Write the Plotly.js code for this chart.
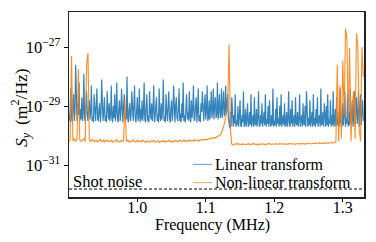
<!DOCTYPE html>
<html>
<head>
<meta charset="utf-8">
<script src="https://cdn.plot.ly/plotly-3.0.1.min.js"></script>
<style>html,body{margin:0;padding:0;background:#fff;}#chart{width:376px;height:242px;}</style>
</head>
<body>
<div id="chart"></div>
<script>
// Frequency grids (MHz): uniform sampling
const linearFreqStart = 0.900, linearFreqStep = 0.001, linearN = 431;
const nonlinearFreqStart = 0.900, nonlinearFreqStep = 0.002, nonlinearN = 216;

// log10 of S_y (m^2/Hz)
const linearLog10 = [
 -29.3,-29.5,-29.1,-28.4,-29.4,-29.55,-29.0,-28.6,-29.5,-29.2,
 -27.6,-29.4,-29.5,-28.9,-29.3,-28.2,-29.5,-29.1,-29.45,-28.7,
 -29.5,-29.2,-27.9,-29.4,-29.55,-29.0,-28.5,-29.3,-29.5,-29.1,
 -28.8,-29.45,-29.2,-28.3,-29.5,-29.35,-29.55,-28.6,-29.2,-29.5,
 -29.0,-28.4,-29.45,-29.5,-29.1,-28.9,-29.55,-29.3,-28.1,-29.4,
 -29.5,-29.2,-28.7,-29.5,-29.3,-29.55,-28.5,-29.1,-29.45,-28.9,
 -29.5,-29.3,-28.3,-29.45,-29.55,-29.0,-29.4,-28.6,-29.5,-29.2,
 -28.2,-29.4,-29.55,-29.1,-28.8,-29.5,-29.3,-28.4,-29.45,-29.55,
 -29.0,-28.6,-29.5,-29.2,-29.45,-28.0,-29.4,-29.55,-29.1,-28.9,
 -29.5,-29.3,-28.5,-29.45,-29.5,-29.0,-28.3,-29.4,-29.55,-29.2,
 -28.7,-29.5,-29.35,-28.4,-29.55,-29.1,-29.45,-28.8,-29.5,-29.2,
 -28.2,-29.45,-29.55,-29.0,-28.6,-29.5,-29.3,-29.55,-28.5,-29.2,
 -29.45,-28.9,-29.5,-29.1,-28.3,-29.55,-29.4,-29.0,-28.7,-29.5,
 -29.25,-29.55,-28.4,-29.3,-29.5,-28.9,-29.45,-29.1,-28.1,-29.5,
 -29.35,-29.55,-28.6,-29.2,-29.5,-29.0,-28.5,-29.45,-29.55,-29.1,
 -28.8,-29.5,-29.3,-28.3,-29.45,-29.55,-29.0,-28.7,-29.4,-29.5,
 -29.1,-28.4,-29.5,-29.25,-29.55,-28.9,-29.4,-28.2,-29.5,-29.3,
 -29.55,-29.0,-28.6,-29.45,-29.2,-29.5,-28.5,-29.35,-29.55,-28.8,
 -29.4,-29.1,-28.3,-29.5,-29.45,-29.0,-28.7,-29.55,-29.2,-28.4,
 -29.5,-29.3,-29.55,-28.9,-29.2,-28.5,-29.45,-29.5,-29.0,-28.6,
 -29.45,-29.2,-28.3,-29.5,-29.4,-28.8,-29.45,-29.1,-28.5,-29.4,
 -29.2,-28.4,-29.45,-29.0,-28.7,-29.4,-29.3,-28.2,-29.45,-29.1,
 -28.6,-29.4,-29.25,-28.4,-29.4,-29.0,-28.5,-29.35,-29.2,-28.3,
 -29.3,-29.0,-28.6,-29.4,-29.6,-29.75,-29.2,-29.7,-28.7,-29.65,
 -29.7,-29.3,-29.6,-28.6,-29.7,-29.5,-29.65,-29.0,-29.7,-29.4,
 -28.8,-29.65,-29.7,-29.3,-29.55,-28.5,-29.7,-29.6,-29.1,-29.7,
 -29.45,-28.9,-29.7,-29.6,-29.2,-29.65,-28.6,-29.7,-29.5,-29.3,
 -29.7,-28.7,-29.6,-29.65,-29.1,-29.7,-29.4,-28.5,-29.65,-29.7,
 -29.3,-29.6,-28.9,-29.7,-29.5,-29.2,-29.65,-28.6,-29.7,-29.45,
 -29.6,-29.0,-29.7,-28.8,-29.55,-29.7,-29.3,-29.65,-28.4,-29.7,
 -29.5,-29.65,-29.1,-29.7,-28.7,-29.6,-29.4,-29.7,-29.0,-29.65,
 -28.6,-29.7,-29.5,-29.3,-29.65,-28.9,-29.7,-29.6,-29.2,-29.7,
 -29.45,-28.5,-29.65,-29.7,-29.1,-29.6,-28.8,-29.7,-29.5,-29.3,
 -29.7,-28.7,-29.6,-29.65,-29.2,-29.7,-29.45,-28.6,-29.7,-29.55,
 -29.3,-29.7,-28.9,-29.6,-29.65,-29.0,-29.7,-28.5,-29.6,-29.7,
 -29.4,-29.65,-28.8,-29.7,-29.5,-29.2,-29.7,-28.6,-29.65,-29.4,
 -29.7,-29.1,-29.6,-28.7,-29.7,-29.55,-29.3,-29.7,-28.4,-29.65,
 -29.6,-29.2,-29.7,-28.9,-29.5,-29.7,-29.0,-29.65,-28.6,-29.7,
 -29.45,-29.6,-28.8,-29.7,-29.3,-29.65,-28.5,-29.7,-29.55,-29.1,
 -29.7,-28.7,-29.6,-29.65,-29.2,-29.7,-28.4,-29.6,-29.5,-29.7,
 -28.9,-29.65,-29.3,-28.5,-29.7,-29.4,-29.6,-28.6,-29.7,-29.2,
 -29.65,-28.4,-29.6,-29.5,-28.8,-29.7,-29.3,-28.5,-29.65,-29.1,
 -28.7,-29.6,-29.4,-28.5,-29.7,-29.2,-28.6,-29.65,-29.0,-28.8,
 -29.5
];

const nonlinearLog10 = [
 -30.2,-30.15,-27.3,-30.18,-30.1,-30.2,-30.12,-27.75,-30.15,-30.2,
 -30.15,-30.1,-30.2,-27.6,-27.2,-30.15,-30.2,-30.12,-30.18,-30.2,
 -30.15,-30.22,-30.18,-30.12,-30.2,-30.16,-30.22,-30.14,-30.2,-30.18,
 -30.2,-30.15,-30.22,-30.17,-30.2,-30.13,-30.2,-30.22,-30.16,-30.2,
 -30.18,-28.75,-30.2,-30.15,-30.22,-30.18,-30.2,-30.14,-30.2,-30.22,
 -30.16,-30.2,-30.18,-30.22,-30.15,-30.2,-30.23,-30.17,-30.2,-30.22,
 -30.18,-30.2,-30.15,-30.22,-30.2,-30.17,-30.23,-30.19,-30.2,-30.16,
 -30.22,-30.18,-30.2,-30.15,-30.21,-30.19,-30.22,-30.16,-30.2,-30.18,
 -30.2,-30.15,-30.18,-30.2,-30.14,-30.19,-30.17,-30.2,-30.15,-30.18,
 -30.16,-30.19,-30.14,-30.17,-30.15,-30.18,-30.13,-30.16,-30.12,-30.15,
 -30.12,-30.14,-30.1,-30.12,-30.08,-30.1,-30.06,-30.08,-30.04,-30.02,
 -30.0,-29.95,-29.85,-29.7,-29.5,-29.3,-29.0,-26.9,-29.8,-30.3,
 -30.32,-30.28,-30.3,-30.26,-30.3,-30.28,-30.32,-30.27,-30.3,-30.29,
 -30.3,-30.27,-30.31,-30.28,-30.3,-30.26,-30.3,-30.29,-30.32,-30.28,
 -30.3,-30.27,-30.29,-30.31,-30.28,-30.3,-30.26,-30.29,-30.3,-30.28,
 -30.3,-30.27,-30.29,-30.3,-30.26,-30.28,-30.3,-30.27,-30.29,-30.28,
 -30.3,-30.26,-30.28,-30.29,-30.27,-30.3,-30.28,-30.26,-30.29,-30.27,
 -30.28,-30.26,-30.29,-30.27,-30.28,-30.25,-30.27,-30.28,-30.26,-30.27,
 -30.25,-30.27,-30.26,-30.24,-30.27,-30.25,-30.26,-30.24,-30.25,-30.26,
 -30.24,-30.25,-30.23,-30.25,-30.24,-30.2,-27.6,-30.2,-28.3,-30.1,
 -27.45,-29.3,-26.37,-26.7,-29.5,-27.03,-30.2,-28.9,-28.5,-30.1,
 -26.53,-27.0,-29.8,-30.2,-27.0,-28.0
];

const shotNoiseLevel = 1.55e-32;
const seriesNames = ['Linear transform', 'Non-linear transform'];
const seriesColors = ['#1f77b4', '#ff7f0e'];
const yTickVals = [1e-31, 1e-29, 1e-27];
const yTickText = ['10<sup>\u221231</sup>', '10<sup>\u221229</sup>', '10<sup>\u221227</sup>'];
const xTickVals = [1.0, 1.1, 1.2, 1.3];
const xTickText = ['1.0', '1.1', '1.2', '1.3'];
const xTitle = 'Frequency (MHz)';
const yTitle = '<i>S</i><sub><i>y</i></sub>\u2009 (m<sup>2</sup>/Hz)';

function grid(start, step, n) {
  const out = [];
  for (let i = 0; i < n; i++) out.push(+(start + i * step).toFixed(4));
  return out;
}
const linearFreq = grid(linearFreqStart, linearFreqStep, linearN);
const nonlinearFreq = grid(nonlinearFreqStart, nonlinearFreqStep, nonlinearN);
const linearS = linearLog10.map(v => Math.pow(10, v));
const nonlinearS = nonlinearLog10.map(v => Math.pow(10, v));

const font = 'Liberation Serif, Times New Roman, serif';
const xRange = [0.9003, 1.331];

const traces = [
  {x: linearFreq, y: linearS, type: 'scatter', mode: 'lines', name: seriesNames[0],
   line: {color: seriesColors[0], width: 1.2}, opacity: 0.9, showlegend: false},
  {x: nonlinearFreq, y: nonlinearS, type: 'scatter', mode: 'lines', name: seriesNames[1],
   line: {color: seriesColors[1], width: 1.1}, opacity: 0.9, showlegend: false},
  {x: xRange, y: [shotNoiseLevel, shotNoiseLevel], type: 'scatter', mode: 'lines',
   name: 'Shot noise', showlegend: false, line: {color: '#000', width: 1, dash: '3px,2px'}}
];

// manual legend (line samples + labels), placed in paper coordinates
const legendRowsY = [0.176, 0.078];
const legendShapes = seriesNames.map((n, k) => ({
  type: 'line', xref: 'paper', yref: 'paper', x0: 0.420, x1: 0.485,
  y0: legendRowsY[k], y1: legendRowsY[k],
  line: {color: seriesColors[k], width: 1.2}, opacity: 0.6
}));
const legendLabels = seriesNames.map((n, k) => ({
  text: n, xref: 'paper', yref: 'paper', x: 0.4915, y: legendRowsY[k],
  xanchor: 'left', yanchor: 'middle', showarrow: false, borderpad: 0,
  font: {family: font, size: 16, color: '#000'}
}));

const layout = {
  width: 376, height: 242,
  margin: {l: 69, r: 12, t: 12, b: 45},
  paper_bgcolor: '#fff', plot_bgcolor: '#fff',
  font: {family: font, size: 16, color: '#000'},
  showlegend: false,
  xaxis: {range: xRange, tickvals: xTickVals, ticktext: xTickText,
          ticks: 'outside', ticklen: 3.5, tickwidth: 1, tickcolor: '#000',
          showline: true, linewidth: 1.5, linecolor: '#222', mirror: true,
          showgrid: false, zeroline: false, ticklabelstandoff: -8,
          tickfont: {family: font, size: 16}},
  yaxis: {type: 'log', range: [-32.08, -25.81], tickvals: yTickVals, ticktext: yTickText,
          ticks: 'outside', ticklen: 4, tickwidth: 1, tickcolor: '#000',
          showline: true, linewidth: 1.5, linecolor: '#222', mirror: true,
          showgrid: false, zeroline: false,
          tickfont: {family: font, size: 16.5}},
  shapes: legendShapes,
  annotations: [
    {text: 'Shot noise', x: 0.9035, y: -31.55, xref: 'x', yref: 'y',
     xanchor: 'left', yanchor: 'middle', showarrow: false,
     font: {family: font, size: 16.5, color: '#000'}},
    {text: xTitle, xref: 'paper', yref: 'paper', x: 0.485, y: -0.152,
     xanchor: 'center', yanchor: 'middle', showarrow: false, borderpad: 0,
     font: {family: font, size: 16, color: '#000'}},
    {text: yTitle, xref: 'paper', yref: 'paper', x: -0.164, y: 0.484, textangle: -90,
     xanchor: 'center', yanchor: 'middle', showarrow: false,
     font: {family: font, size: 17.5, color: '#000'}}
  ].concat(legendLabels)
};

Plotly.newPlot('chart', traces, layout, {displayModeBar: false, staticPlot: true});
</script>
</body>
</html>
